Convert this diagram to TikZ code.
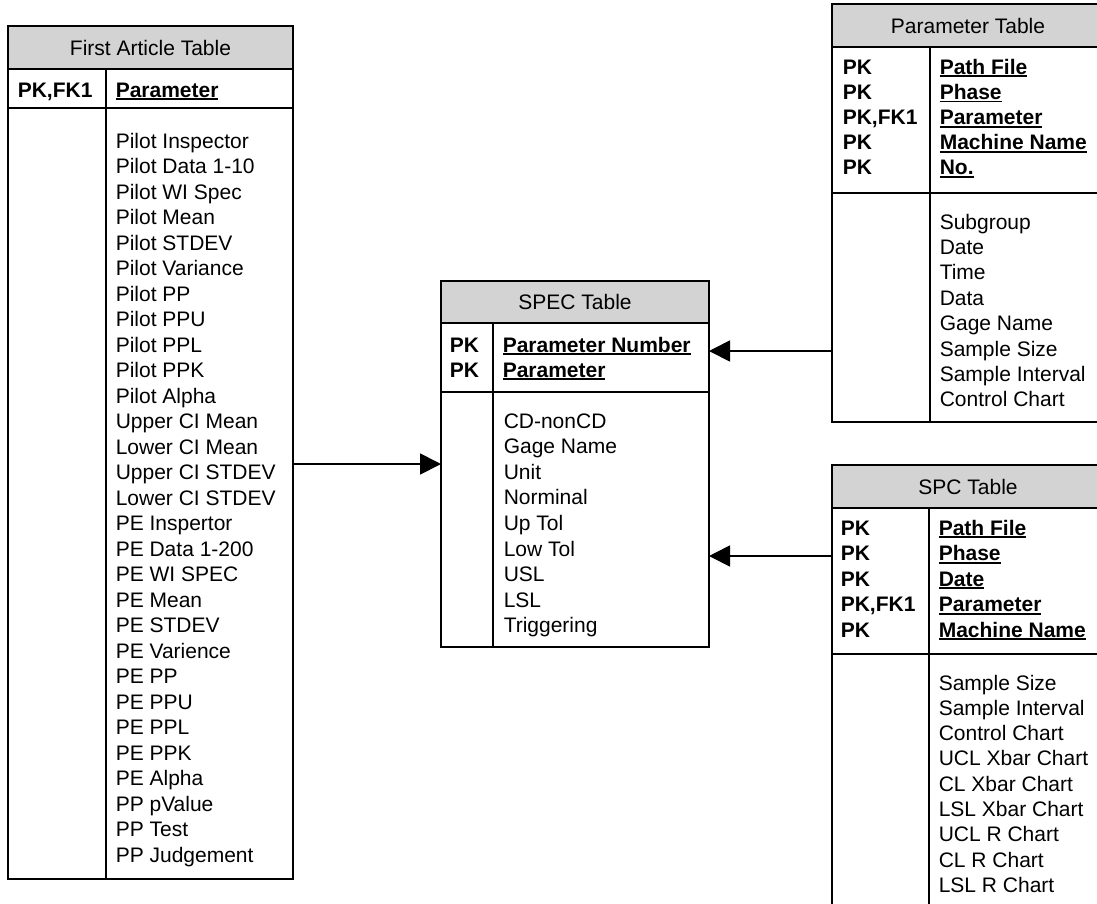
\documentclass[tikz,border=0pt]{standalone}
\usepackage{fontspec}
\setmainfont{Liberation Sans}
\usetikzlibrary{arrows.meta}
\definecolor{hdr}{RGB}{211,211,211}
\newcommand\ulk[1]{\setbox0\hbox{#1}\rlap{\rule[-3.2pt]{\wd0}{1.8pt}}\box0}
\begin{document}
\begin{tikzpicture}[x=1pt,y=-1pt,line width=1.5pt,
  tbl/.style={draw,inner sep=0,outer sep=0,anchor=north west},
  hd/.style={draw,fill=hdr,inner sep=0,outer sep=0,anchor=north west,font=\fontsize{21}{25}\selectfont},
  txt/.style={inner sep=0,anchor=base west,font=\fontsize{21}{25}\selectfont},
  keyt/.style={inner sep=0,anchor=base west,font=\fontsize{21}{25}\selectfont\bfseries},
  rel/.style={line width=1.8pt,-{Triangle[length=21pt,width=21pt]}}]
\useasboundingbox (0,0) rectangle (1097,903);
\clip (0,0) rectangle (1097,903);
\fill[white] (0,0) rectangle (1097,903);

% ---------- First Article Table ----------
\node[tbl,minimum width=285pt,minimum height=853pt] (fa) at (8,26) {};
\node[hd,minimum width=285pt,minimum height=43pt] (fah) at (8,26) {First Article Table};
\draw (8,108) -- (293,108);
\draw (106,69) -- (106,879);
\node[keyt] (fak) at (17,97) {PK,FK1};
\node[keyt] (fan) at (115,97) {\ulk{Parameter}};
\foreach \t [count=\i from 0] in {Pilot Inspector,Pilot Data 1-10,Pilot WI Spec,Pilot Mean,Pilot STDEV,Pilot Variance,Pilot PP,Pilot PPU,Pilot PPL,Pilot PPK,Pilot Alpha,Upper CI Mean,Lower CI Mean,Upper CI STDEV,Lower CI STDEV,PE Inspertor,PE Data 1-200,PE WI SPEC,PE Mean,PE STDEV,PE Varience,PE PP,PE PPU,PE PPL,PE PPK,PE Alpha,PP pValue,PP Test,PP Judgement}
  \node[txt] (fa-\i) at (115,148+25.5*\i) {\t};

% ---------- SPEC Table ----------
\node[tbl,minimum width=268pt,minimum height=366pt] (spec) at (441,281) {};
\node[hd,minimum width=268pt,minimum height=42pt] (spech) at (441,281) {SPEC Table};
\draw (441,392) -- (709,392);
\draw (493,323) -- (493,647);
\foreach \k/\n [count=\i from 0] in {PK/Parameter Number,PK/Parameter}{
  \node[keyt] (speck-\i) at (449,352+25*\i) {\k};
  \node[keyt] (specn-\i) at (502,352+25*\i) {\ulk{\n}};
}
\foreach \t [count=\i from 0] in {CD-nonCD,Gage Name,Unit,Norminal,Up Tol,Low Tol,USL,LSL,Triggering}
  \node[txt] (spec-\i) at (503,428+25.6*\i) {\t};

% ---------- Parameter Table ----------
\node[tbl,minimum width=272pt,minimum height=418pt] (par) at (832,4) {};
\node[hd,minimum width=272pt,minimum height=43pt] (parh) at (832,4) {Parameter Table};
\draw (832,193) -- (1104,193);
\draw (930,47) -- (930,422);
\foreach \k/\n [count=\i from 0] in {PK/Path File,PK/Phase,{PK,FK1}/Parameter,PK/Machine Name,PK/No.}{
  \node[keyt] (park-\i) at (842,74+25.2*\i) {\k};
  \node[keyt] (parn-\i) at (939,74+25.2*\i) {\ulk{\n}};
}
\foreach \t [count=\i from 0] in {Subgroup,Date,Time,Data,Gage Name,Sample Size,Sample Interval,Control Chart}
  \node[txt] (par-\i) at (939,229+25.4*\i) {\t};

% ---------- SPC Table ----------
\node[tbl,minimum width=272pt,minimum height=560pt] (spc) at (832,465) {};
\node[hd,minimum width=272pt,minimum height=43pt] (spch) at (832,465) {SPC Table};
\draw (832,654) -- (1104,654);
\draw (929,508) -- (929,1025);
\foreach \k/\n [count=\i from 0] in {PK/Path File,PK/Phase,PK/Date,{PK,FK1}/Parameter,PK/Machine Name}{
  \node[keyt] (spck-\i) at (840,535+25.5*\i) {\k};
  \node[keyt] (spcn-\i) at (938,535+25.5*\i) {\ulk{\n}};
}
\foreach \t [count=\i from 0] in {Sample Size,Sample Interval,Control Chart,UCL Xbar Chart,CL Xbar Chart,LSL Xbar Chart,UCL R Chart,CL R Chart,LSL R Chart}
  \node[txt] (spc-\i) at (938,690+25.3*\i) {\t};

% ---------- relationships ----------
\coordinate (r1) at (0,464);
\coordinate (r2) at (0,351);
\coordinate (r3) at (0,556);
\draw[rel] (fa.east |- r1) -- (spec.west |- r1);
\draw[rel] (par.west |- r2) -- (spec.east |- r2);
\draw[rel] (spc.west |- r3) -- (spec.east |- r3);
\end{tikzpicture}
\end{document}
